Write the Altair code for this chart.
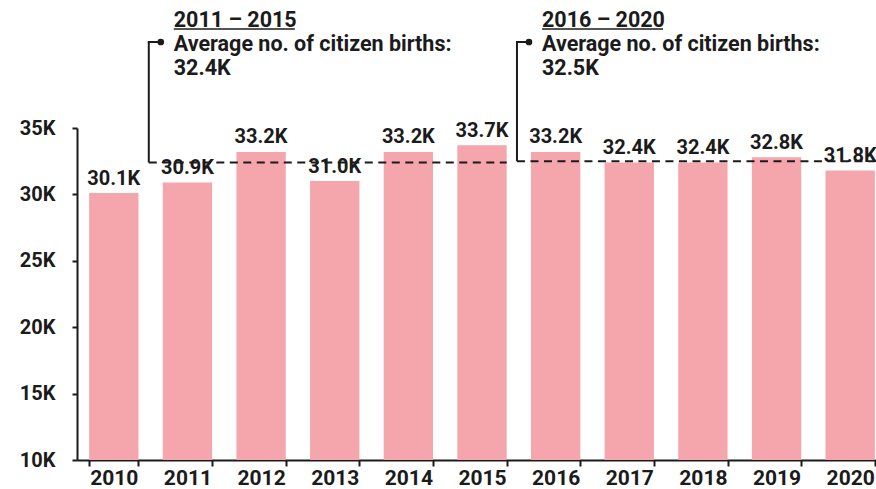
import altair as alt
import pandas as pd

years = ["2010", "2011", "2012", "2013", "2014", "2015", "2016", "2017", "2018", "2019", "2020"]
births_k = [30.1, 30.9, 33.2, 31.0, 33.2, 33.7, 33.2, 32.4, 32.4, 32.8, 31.8]

period_titles = ["2011 – 2015", "2016 – 2020"]
period_start = ["2011", "2016"]
period_end = ["2015", "2020"]
period_avg_k = [32.4, 32.5]
period_sub = ["Average no. of citizen births:", "Average no. of citizen births:"]

y_ticks = [10000, 15000, 20000, 25000, 30000, 35000]
y_floor = 10000

FONT = "Roboto"
INK = "#1b1b1b"

bars_df = pd.DataFrame({
    "year": years,
    "births": [v * 1000 for v in births_k],
    "floor": [y_floor] * len(years),
    "label": [f"{v:.1f}K" for v in births_k],
})
per_df = pd.DataFrame({
    "start": period_start,
    "end": period_end,
    "avg": [v * 1000 for v in period_avg_k],
    "title": period_titles,
    "sub": period_sub,
    "val": [f"{v:.1f}K" for v in period_avg_k],
})

xscale = alt.Scale(domain=years, range=[0, 810], paddingInner=0.33, paddingOuter=0.165)
yscale = alt.Scale(domain=[10000, 35000], nice=False, zero=False, clamp=True)

x_axis = alt.Axis(
    title=None, labelFont=FONT, labelFontWeight="bold", labelFontSize=21, labelColor=INK,
    labelAngle=0, labelPadding=1, tickBand="extent", tickSize=6, tickWidth=2, tickColor=INK,
    domainColor=INK, domainWidth=2,
)
y_axis = alt.Axis(
    title=None, values=y_ticks, labelExpr="datum.value / 1000 + 'K'",
    labelFont=FONT, labelFontWeight="bold", labelFontSize=20, labelColor=INK,
    labelPadding=17, tickSize=5, tickWidth=2, tickColor=INK, domainColor=INK, domainWidth=2,
    grid=False,
)

base = alt.Chart(bars_df)
bars = base.mark_bar(color="#F4A6AC").encode(
    x=alt.X("year:O", scale=xscale, axis=x_axis),
    y=alt.Y("births:Q", scale=yscale, axis=y_axis),
    y2="floor:Q",
)
labels = base.mark_text(
    font=FONT, fontWeight="bold", fontSize=20, color=INK, baseline="alphabetic", dy=-8.5,
).encode(
    x=alt.X("year:O", scale=xscale),
    y=alt.Y("births:Q", scale=yscale),
    text="label:N",
)

pb = alt.Chart(per_df)
dashed = pb.mark_rule(strokeDash=[8, 5.5], strokeWidth=2, color=INK, xOffset=-14).encode(
    x=alt.X("start:O", scale=xscale, bandPosition=0),
    x2=alt.X2("end:O", bandPosition=1),
    y=alt.Y("avg:Q", scale=yscale),
)
vert = pb.mark_rule(strokeWidth=2, color=INK, xOffset=-14).encode(
    x=alt.X("start:O", scale=xscale, bandPosition=0),
    y=alt.Y("avg:Q", scale=yscale),
    y2=alt.value(-86),
)
horiz = pb.mark_rule(strokeWidth=2, color=INK, xOffset=-15, x2Offset=-2).encode(
    x=alt.X("start:O", scale=xscale, bandPosition=0),
    x2=alt.X2("start:O", bandPosition=0),
    y=alt.value(-86),
)
dot = pb.mark_point(filled=True, size=45, color=INK, opacity=1, xOffset=-2).encode(
    x=alt.X("start:O", scale=xscale, bandPosition=0),
    y=alt.value(-86),
)
txt_kw = dict(font=FONT, fontWeight="bold", fontSize=21.5, color=INK, align="left",
              baseline="alphabetic", xOffset=11)
title_t = pb.mark_text(**txt_kw).encode(
    x=alt.X("start:O", scale=xscale, bandPosition=0), y=alt.value(-101), text="title:N")
sub_t = pb.mark_text(**txt_kw).encode(
    x=alt.X("start:O", scale=xscale, bandPosition=0), y=alt.value(-77.5), text="sub:N")
val_t = pb.mark_text(**txt_kw).encode(
    x=alt.X("start:O", scale=xscale, bandPosition=0), y=alt.value(-53), text="val:N")
underline = pb.mark_rule(strokeWidth=1.5, color=INK, xOffset=11, x2Offset=132).encode(
    x=alt.X("start:O", scale=xscale, bandPosition=0),
    x2=alt.X2("start:O", bandPosition=0),
    y=alt.value(-99),
)

chart = alt.layer(bars, labels, dashed, vert, horiz, dot, title_t, sub_t, val_t, underline).properties(
    width=799, height=332,
    autosize=alt.AutoSizeParams(type="none"),
    padding={"left": 77, "top": 128, "right": 0, "bottom": 29},
    background="white",
).configure_view(stroke=None)

chart.save("out.html", embed_options={"renderer": "svg", "actions": False})
